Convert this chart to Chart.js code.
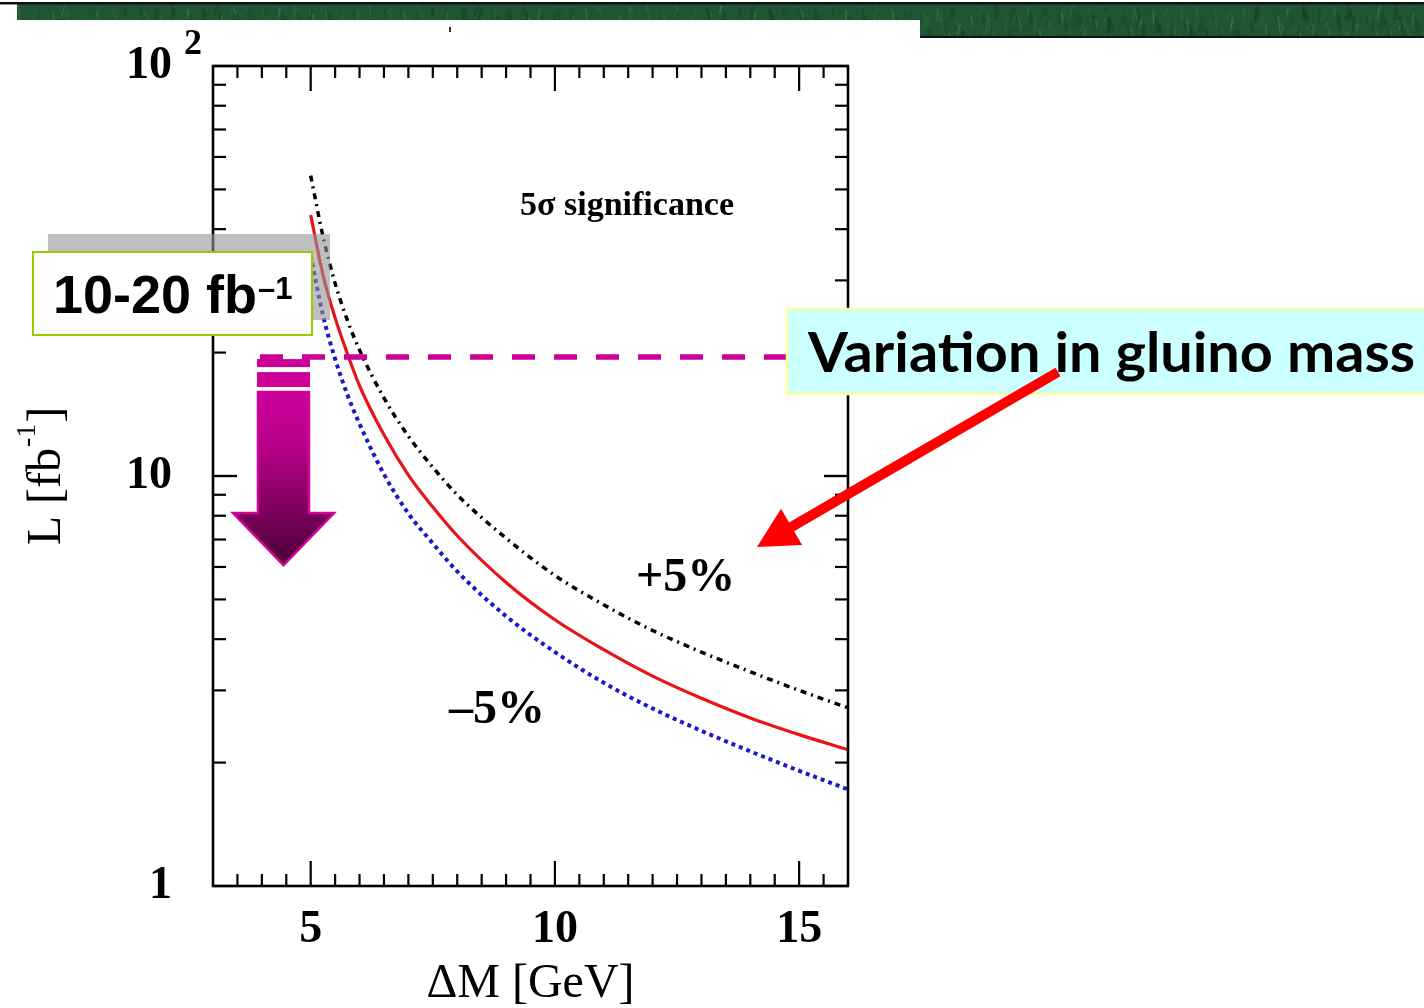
<!DOCTYPE html>
<html><head><meta charset="utf-8">
<script src="https://cdn.jsdelivr.net/npm/chart.js@4.4.0/dist/chart.umd.min.js"></script>
<style>html,body{margin:0;padding:0;background:#fff;overflow:hidden}#wrap{position:relative;width:1424px;height:1008px}</style>
</head><body><div id="wrap"><canvas id="c" width="1424" height="1008"></canvas></div>
<script>
// ---- data ----
const deltaM      = [5, 5.25, 5.5, 5.75, 6, 6.5, 7, 7.5, 8, 9, 10, 11, 12, 13, 14, 15, 16];
const lumiNominal = [43.3, 31.0, 24.3, 19.9, 16.6, 12.6, 10.05, 8.4, 7.15, 5.5, 4.46, 3.77, 3.25, 2.87, 2.57, 2.34, 2.15];
const lumiPlus5   = [54.0, 38.5, 29.5, 24.0, 20.3, 15.5, 12.5, 10.5, 9.0, 7.05, 5.72, 4.85, 4.2, 3.72, 3.33, 3.0, 2.72];
const lumiMinus5  = [34.5, 24.7, 19.3, 15.8, 13.4, 10.1, 8.1, 6.85, 5.85, 4.55, 3.72, 3.13, 2.71, 2.39, 2.13, 1.91, 1.72];
const xTickValues = [5, 10, 15];
const xTickLabels = ['5', '10', '15'];
const yTickValues = [1, 10, 100];
const yTickLabels = ['1', '10', '10'];
const yTickSuperscripts = ['', '', '2'];
const targetLumi = 19.5;

const SERIF = '"Liberation Serif", "Times New Roman", serif';
const SANS = '"Liberation Sans", Arial, sans-serif';

function pts(ys){ return deltaM.map((x,i)=>({x:x, y:ys[i]})); }

function drawBand(ctx){
  ctx.save();
  ctx.beginPath();
  ctx.rect(17,4,1407,16); ctx.rect(920,4,504,33);
  ctx.clip();
  ctx.fillStyle = '#1f5532'; ctx.fillRect(0,0,1424,40);
  for (let i=0;i<900;i++){
    const x = 17 + ((i*53.9) % 1407);
    const y = 4 + ((i*17.3) % 33);
    const a = 0.12 + 0.22*(((i*7)%9)/9);
    const shade = ((i*13)%4===0) ? '#6fae7f' : ((i%3===1)? '#3c7d50' : '#0f331c');
    ctx.strokeStyle = shade; ctx.globalAlpha = a; ctx.lineWidth = 1 + (i%4)*0.7;
    ctx.beginPath(); ctx.moveTo(x, y); ctx.lineTo(x + 3 - (i%5)*1.5, y + 6 + (i%6)*2); ctx.stroke();
  }
  ctx.restore();
  ctx.fillStyle = '#111';
  ctx.fillRect(0,2,1424,2.5);
  ctx.fillRect(920,36,504,2);
  ctx.fillStyle = '#333'; ctx.fillRect(449,27,2,5);
}

const deco = {
  id: 'deco',
  beforeDraw(chart){
    const ctx = chart.ctx;
    ctx.save(); ctx.fillStyle = '#fff'; ctx.fillRect(0,0,chart.width,chart.height); ctx.restore();
    drawBand(ctx);
  },
  afterDatasetsDraw(chart){
    const ctx = chart.ctx, xa = chart.scales.x, ya = chart.scales.y, ca = chart.chartArea;
    ctx.save();
    // frame
    ctx.strokeStyle = '#000'; ctx.lineWidth = 2.6;
    ctx.strokeRect(ca.left, ca.top, ca.right-ca.left, ca.bottom-ca.top);
    // inward ticks
    ctx.lineWidth = 2.2;
    const line = (x1,y1,x2,y2)=>{ctx.beginPath();ctx.moveTo(x1,y1);ctx.lineTo(x2,y2);ctx.stroke();};
    for (let v = 3.5; v < xa.max; v += 0.5){
      const px = xa.getPixelForValue(v);
      const L = (v % 5 === 0) ? 25 : 12;
      line(px, ca.bottom, px, ca.bottom-L);
      line(px, ca.top, px, ca.top+L);
    }
    for (const d of [1, 10]){
      for (let k = 1; k <= 10; k++){
        const v = d*k;
        const py = ya.getPixelForValue(v);
        const L = (k === 1 || k === 10) ? 24 : 13;
        line(ca.left, py, ca.left+L, py);
        line(ca.right, py, ca.right-L, py);
      }
    }
    // grey band
    ctx.fillStyle = 'rgba(148,148,148,0.6)';
    ctx.fillRect(48, 234, 282, 86);
    // 10-20 fb-1 label box
    ctx.fillStyle = '#fff'; ctx.fillRect(32, 251, 281, 85);
    ctx.strokeStyle = '#99cc00'; ctx.lineWidth = 2; ctx.strokeRect(33, 252, 279, 83);
    ctx.fillStyle = '#000'; ctx.textBaseline = 'alphabetic'; ctx.textAlign = 'left';
    ctx.font = 'bold 54px ' + SANS;
    const t1 = '10-20 fb';
    ctx.fillText(t1, 53, 313);
    const w1 = ctx.measureText(t1).width;
    ctx.font = 'bold 31px ' + SANS;
    ctx.fillText('\u20131', 53 + w1 + 1, 299);
    // magenta dashed line at target luminosity
    const yT = ya.getPixelForValue(targetLumi);
    ctx.strokeStyle = '#cc0099'; ctx.lineWidth = 5.5; ctx.setLineDash([23,19]);
    ctx.beginPath(); ctx.moveTo(260, yT); ctx.lineTo(786, yT); ctx.stroke();
    ctx.setLineDash([]);
    // magenta arrow
    ctx.fillStyle = '#cc0099';
    ctx.fillRect(257, yT+2, 53, 8);
    ctx.fillRect(257, yT+15, 53, 15);
    const sT = yT+35, sB = yT+156, tip = yT+208;
    const g = ctx.createLinearGradient(0, sT, 0, tip);
    g.addColorStop(0, '#cc0099'); g.addColorStop(0.3, '#b8008a'); g.addColorStop(0.7, '#7a005a'); g.addColorStop(1, '#4a0035');
    ctx.beginPath();
    ctx.moveTo(258, sT); ctx.lineTo(309, sT); ctx.lineTo(309, sB); ctx.lineTo(334, sB);
    ctx.lineTo(283.5, tip); ctx.lineTo(233, sB); ctx.lineTo(258, sB); ctx.closePath();
    ctx.fillStyle = g; ctx.fill();
    ctx.strokeStyle = '#d4009a'; ctx.lineWidth = 2.5; ctx.lineJoin = 'miter'; ctx.stroke();
    // Variation box
    ctx.fillStyle = '#ccffff'; ctx.fillRect(786, 308, 640, 87);
    ctx.strokeStyle = '#ffff99'; ctx.lineWidth = 2.5; ctx.strokeRect(787, 309, 640, 85);
    ctx.fillStyle = '#000'; ctx.font = 'bold 55px "Comic Sans MS", Lato, "Open Sans", sans-serif';
    const vt = 'Variation in gluino mass';
    const vw = ctx.measureText(vt).width;
    ctx.save(); ctx.translate(808, 372); ctx.scale(607/vw, 1); ctx.fillText(vt, 0, 0); ctx.restore();
    // red arrow
    const tx = 1058, ty = 372, hx = 757, hy = 547;
    const dx = hx-tx, dy = hy-ty, len = Math.hypot(dx,dy), ux = dx/len, uy = dy/len;
    const headLen = 40, headHalf = 21;
    const bx = hx - ux*headLen, by = hy - uy*headLen;
    ctx.strokeStyle = '#ff0000'; ctx.lineWidth = 10; ctx.lineCap = 'butt';
    ctx.beginPath(); ctx.moveTo(tx,ty); ctx.lineTo(bx+ux*3, by+uy*3); ctx.stroke();
    ctx.fillStyle = '#ff0000';
    ctx.beginPath(); ctx.moveTo(hx,hy); ctx.lineTo(bx - uy*headHalf, by + ux*headHalf); ctx.lineTo(bx + uy*headHalf, by - ux*headHalf); ctx.closePath(); ctx.fill();
    // texts in the plot
    ctx.fillStyle = '#000'; ctx.textBaseline = 'middle';
    ctx.font = 'bold 34px ' + SERIF; ctx.fillText('5\u03c3 significance', 520, 206);
    ctx.font = 'bold 48px ' + SERIF; ctx.fillText('+5%', 636, 579);
    ctx.fillText('\u20135%', 449, 711);
    ctx.restore();
  },
  afterDraw(chart){
    const ctx = chart.ctx, ya = chart.scales.y;
    ctx.save();
    ctx.fillStyle = '#000'; ctx.textAlign = 'center'; ctx.textBaseline = 'middle';
    ctx.font = 'bold 36px ' + SERIF;
    yTickValues.forEach((v,i)=>{
      if (yTickSuperscripts[i]) ctx.fillText(yTickSuperscripts[i], 193, ya.getPixelForValue(v) - 21);
    });
    // y axis title  L [fb^-1]
    ctx.translate(60, 476); ctx.rotate(-Math.PI/2);
    ctx.textAlign = 'left'; ctx.textBaseline = 'alphabetic';
    const a = 'L [fb', b = '-1', c = ']';
    ctx.font = '48px ' + SERIF; const wa = ctx.measureText(a).width, wc = ctx.measureText(c).width;
    ctx.font = '28px ' + SERIF; const wb = ctx.measureText(b).width;
    let x0 = -(wa+wb+wc+2)/2;
    ctx.font = '48px ' + SERIF; ctx.fillText(a, x0, 0);
    ctx.font = '28px ' + SERIF; ctx.fillText(b, x0+wa+1, -25);
    ctx.font = '48px ' + SERIF; ctx.fillText(c, x0+wa+wb+2, 0);
    ctx.restore();
  }
};

const chart = new Chart(document.getElementById('c'), {
  type: 'line',
  data: {
    datasets: [
      { label: '+5%', data: pts(lumiPlus5), borderColor: '#000', borderWidth: 3.5, borderDash: [6,5,2,5], pointRadius: 0, cubicInterpolationMode: 'monotone', fill: false },
      { label: 'nominal', data: pts(lumiNominal), borderColor: '#e8141b', borderWidth: 3.2, pointRadius: 0, cubicInterpolationMode: 'monotone', fill: false },
      { label: '-5%', data: pts(lumiMinus5), borderColor: '#1a1acc', borderWidth: 4, borderDash: [4,4], pointRadius: 0, cubicInterpolationMode: 'monotone', fill: false }
    ]
  },
  options: {
    responsive: false, animation: false, devicePixelRatio: 1,
    layout: { padding: { top: 66, right: 576, left: 0, bottom: 0 } },
    plugins: { legend: { display: false }, tooltip: { enabled: false } },
    scales: {
      x: {
        type: 'linear', min: 3, max: 16,
        grid: { display: false }, border: { display: false },
        afterBuildTicks: (s) => { s.ticks = xTickValues.map(v => ({ value: v })); },
        afterFit: (s) => { s.height = 122; },
        ticks: { autoSkip: false, maxRotation: 0, padding: 9, color: '#000',
          font: { family: SERIF, weight: 'bold', size: 46 },
          callback: (v) => xTickLabels[xTickValues.indexOf(v)] ?? '' },
        title: { display: true, text: '\u0394M [GeV]', color: '#000',
          font: { family: SERIF, size: 48, lineHeight: 1 }, padding: { top: 0, bottom: 0 } }
      },
      y: {
        type: 'logarithmic', min: 1, max: 100,
        grid: { display: false }, border: { display: false },
        afterBuildTicks: (s) => { s.ticks = yTickValues.map(v => ({ value: v })); },
        afterFit: (s) => { s.width = 213; },
        ticks: { autoSkip: false, padding: 33, color: '#000',
          font: { family: SERIF, weight: 'bold', size: 46 },
          callback: (v) => yTickLabels[yTickValues.indexOf(v)] ?? '' }
      }
    }
  },
  plugins: [deco]
});
</script></body></html>
